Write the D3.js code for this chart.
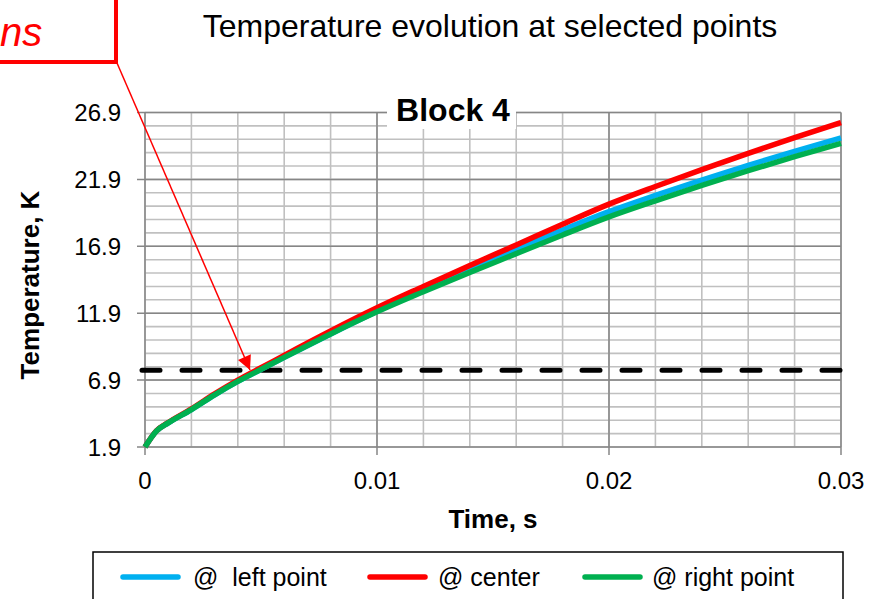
<!DOCTYPE html>
<html>
<head>
<meta charset="utf-8">
<script src="https://cdn.jsdelivr.net/npm/d3@7"></script>
<style>
  body { margin: 0; background: #fff; }
  text { font-family: "Liberation Sans", Arial, sans-serif; }
</style>
</head>
<body>
<div id="maViz"></div>
<script>
// Données
const temps = [0, 0.0005, 0.001, 0.002, 0.003, 0.004, 0.005, 0.006, 0.008, 0.01, 0.012, 0.014, 0.016, 0.018, 0.02, 0.022, 0.024, 0.026, 0.028, 0.03];
const gauche = [1.9, 3.1, 3.7, 4.7, 5.8, 6.8, 7.7, 8.6, 10.35, 12.05, 13.65, 15.2, 16.67, 18.12, 19.49, 20.7, 21.85, 22.95, 24.0, 25.0];
const centre = [1.9, 3.12, 3.73, 4.75, 5.87, 6.9, 7.82, 8.75, 10.57, 12.3, 13.9, 15.47, 17.0, 18.55, 20.05, 21.37, 22.63, 23.85, 25.02, 26.15];
const droite = [1.9, 3.1, 3.7, 4.7, 5.8, 6.8, 7.7, 8.6, 10.35, 12.0, 13.5, 14.95, 16.35, 17.75, 19.1, 20.3, 21.45, 22.55, 23.6, 24.6];
const seuil = 7.64; // ligne pointillée
const nomsSeries = ["@  left point", "@ center", "@ right point"];
const yTicks = [1.9, 6.9, 11.9, 16.9, 21.9, 26.9];
const xTicks = [0, 0.01, 0.02, 0.03];

const W = 884, H = 599;
const couleurs = ["#00b0f0", "#ff0000", "#00b050"];

const svg = d3.select("#maViz").append("svg")
  .attr("width", W).attr("height", H);

const x = d3.scaleLinear().domain([0, 0.03]).range([145, 841]);
const y = d3.scaleLinear().domain([1.9, 26.9]).range([447, 112.5]);

// grille mineure
const yMin = d3.range(0, 26).map(i => +(1.9 + i).toFixed(1));
const xMin = d3.range(0, 16).map(i => +(i * 0.002).toFixed(3));
svg.append("g").selectAll("line").data(yMin).join("line")
  .attr("x1", x(0)).attr("x2", x(0.03))
  .attr("y1", d => y(d)).attr("y2", d => y(d))
  .attr("stroke", "#c0c0c0").attr("stroke-width", 1.6);
svg.append("g").selectAll("line").data(xMin).join("line")
  .attr("x1", d => x(d)).attr("x2", d => x(d))
  .attr("y1", y(1.9)).attr("y2", y(26.9))
  .attr("stroke", "#c0c0c0").attr("stroke-width", 1.6);

// grille majeure + graduations
svg.append("g").selectAll("line").data(yTicks).join("line")
  .attr("x1", x(0) - 8).attr("x2", x(0.03))
  .attr("y1", d => y(d)).attr("y2", d => y(d))
  .attr("stroke", "#868686").attr("stroke-width", 1.5);
svg.append("g").selectAll("line").data(xTicks).join("line")
  .attr("x1", d => x(d)).attr("x2", d => x(d))
  .attr("y1", y(1.9) + 8).attr("y2", y(26.9))
  .attr("stroke", "#868686").attr("stroke-width", 1.5);

// étiquettes axes
svg.append("g").selectAll("text").data(yTicks).join("text")
  .attr("x", 121).attr("y", d => y(d) + 8.5)
  .attr("text-anchor", "end").style("font-size", "24px")
  .text(d => d3.format(".1f")(d));
svg.append("g").selectAll("text").data(xTicks).join("text")
  .attr("x", d => x(d)).attr("y", 489)
  .attr("text-anchor", "middle").style("font-size", "24px")
  .text(d => d === 0 ? "0" : d3.format(".2f")(d));

svg.append("text").attr("x", 493).attr("y", 528)
  .attr("text-anchor", "middle").style("font-size", "26px").style("font-weight", "bold")
  .text("Time, s");
svg.append("text").attr("transform", "translate(39,285) rotate(-90)")
  .attr("text-anchor", "middle").style("font-size", "26px").style("font-weight", "bold")
  .text("Temperature, K");

svg.append("text").attr("x", 490).attr("y", 37)
  .attr("text-anchor", "middle").style("font-size", "32px")
  .text("Temperature evolution at selected points");

// ligne pointillée
svg.append("line")
  .attr("x1", x(0) - 3).attr("x2", x(0.03))
  .attr("y1", y(seuil)).attr("y2", y(seuil))
  .attr("stroke", "#000").attr("stroke-width", 5)
  .attr("stroke-linecap", "round")
  .attr("stroke-dasharray", "18 22");

// courbes
const series = [gauche, centre, droite];
const ligne = d3.line()
  .x((d, i) => x(temps[i]))
  .y(d => y(d))
  .curve(d3.curveMonotoneX);
svg.append("g").selectAll("path").data(series).join("path")
  .attr("d", ligne)
  .attr("fill", "none")
  .attr("stroke", (d, i) => couleurs[i])
  .attr("stroke-width", 5.5);

// étiquette Block 4
svg.append("rect").attr("x", 387).attr("y", 90).attr("width", 129).attr("height", 39)
  .attr("fill", "#fff");
svg.append("text").attr("x", 453).attr("y", 121)
  .attr("text-anchor", "middle").style("font-size", "32px").style("font-weight", "bold")
  .text("Block 4");

// encadré rouge + flèche
svg.append("defs").append("marker")
  .attr("id", "fleche").attr("viewBox", "0 0 10 10")
  .attr("refX", 10).attr("refY", 5)
  .attr("markerWidth", 15).attr("markerHeight", 14)
  .attr("markerUnits", "userSpaceOnUse")
  .attr("orient", "auto")
  .append("path").attr("d", "M0,0 L10,5 L0,10 z").attr("fill", "#ff0000");

svg.append("line")
  .attr("x1", 117).attr("y1", 63).attr("x2", 250).attr("y2", 370)
  .attr("stroke", "#ff0000").attr("stroke-width", 1.5)
  .attr("marker-end", "url(#fleche)");
svg.append("rect").attr("x", -10).attr("y", -10).attr("width", 126).attr("height", 72)
  .attr("fill", "#fff").attr("stroke", "#ff0000").attr("stroke-width", 4);
svg.append("text").attr("x", 0).attr("y", 46)
  .style("font-family", "'Liberation Sans Narrow', 'Liberation Sans', Arial, sans-serif")
  .style("font-size", "40px").style("font-style", "italic").attr("fill", "#ff0000")
  .text("ns");

// légende
svg.append("rect").attr("x", 93).attr("y", 552).attr("width", 750).attr("height", 60)
  .attr("fill", "#fff").attr("stroke", "#000").attr("stroke-width", 1.5);
const legX = [123, 370, 585];
const leg = svg.append("g").selectAll("g").data(nomsSeries).join("g")
  .attr("transform", (d, i) => `translate(${legX[i]},577)`);
leg.append("line").attr("x1", 0).attr("x2", 55)
  .attr("stroke", (d, i) => couleurs[i]).attr("stroke-width", 5.5)
  .attr("stroke-linecap", "round");
leg.append("text").attr("x", (d, i) => i === 2 ? 67 : (i === 1 ? 68 : 70)).attr("y", 9)
  .style("font-size", "25px").style("white-space", "pre")
  .text(d => d);
</script>
</body>
</html>
